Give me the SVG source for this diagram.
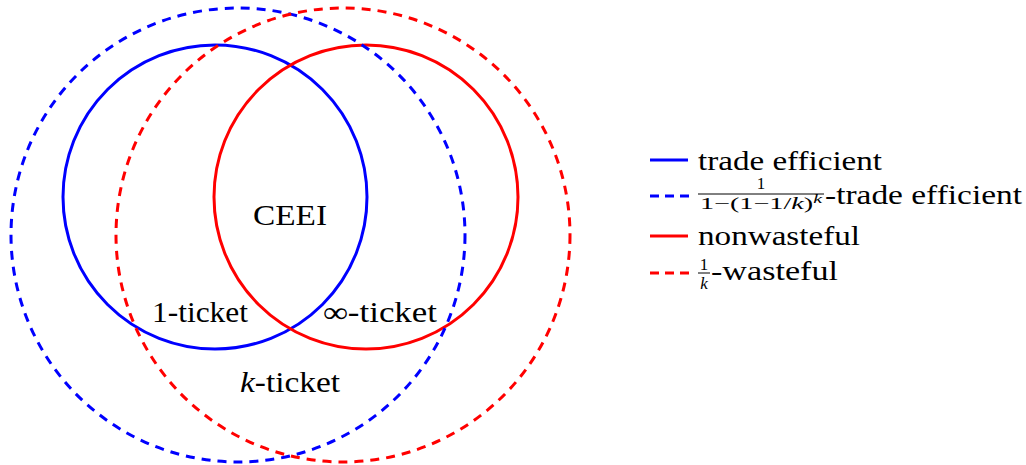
<svg xmlns="http://www.w3.org/2000/svg" width="1026" height="465" viewBox="0 0 1026 465">
<style>
.c{fill:none;stroke-width:3}
.b{stroke:#0000ff}
.r{stroke:#ff0000}
.d{stroke-dasharray:9,7}
.e{stroke-dasharray:9,6}
.f{font-family:Liberation Serif, DejaVu Serif, serif}
</style>
<rect width="1026" height="465" fill="#fff"/>
<g id="sets">
<g id="trade-efficient"><circle class="c b" cx="215" cy="197" r="152"/></g>
<g id="nonwasteful"><circle class="c r" cx="366" cy="197" r="152"/></g>
<g id="approx-trade-efficient"><circle class="c b d" cx="238" cy="235" r="227"/></g>
<g id="k-wasteful"><circle class="c r d" cx="343" cy="235" r="227"/></g>
</g>
<g id="labels" font-size="29" fill="#000">
<text class="f" x="253" y="224.5" textLength="74" lengthAdjust="spacingAndGlyphs">CEEI</text>
<text class="f" x="152" y="321.5" textLength="96" lengthAdjust="spacingAndGlyphs">1-ticket</text>
<text class="f" x="323" y="321.5" textLength="114" lengthAdjust="spacingAndGlyphs">∞-ticket</text>
<text class="f" x="240" y="392" textLength="100" lengthAdjust="spacingAndGlyphs"><tspan font-style="italic">k</tspan>-ticket</text>
</g>
<g id="legend" fill="#000">
<line class="c b" x1="650" y1="160" x2="688" y2="160"/>
<text class="f" x="698" y="170" font-size="28" textLength="184" lengthAdjust="spacingAndGlyphs">trade efficient</text>
<line class="c b e" x1="650" y1="196" x2="689" y2="196"/>
<text class="f" x="761" y="189" font-size="17" text-anchor="middle">1</text>
<line x1="698" y1="194" x2="824" y2="194" stroke="#000" stroke-width="1"/>
<text class="f" x="700" y="209" font-size="17" textLength="122" lengthAdjust="spacingAndGlyphs">1−(1−1/<tspan font-style="italic">k</tspan>)<tspan font-size="12" dy="-6" font-style="italic">k</tspan></text>
<text class="f" x="825" y="204" font-size="28" textLength="197" lengthAdjust="spacingAndGlyphs">-trade efficient</text>
<line class="c r" x1="650" y1="236" x2="688" y2="236"/>
<text class="f" x="698" y="245" font-size="28" textLength="162" lengthAdjust="spacingAndGlyphs">nonwasteful</text>
<line class="c r e" x1="650" y1="273" x2="689" y2="273"/>
<text class="f" x="704" y="270" font-size="17" text-anchor="middle">1</text>
<line x1="698" y1="273" x2="710" y2="273" stroke="#000" stroke-width="1"/>
<text class="f" x="704" y="289" font-size="17" text-anchor="middle" font-style="italic">k</text>
<text class="f" x="711" y="280" font-size="28" textLength="127" lengthAdjust="spacingAndGlyphs">-wasteful</text>
</g>
</svg>
